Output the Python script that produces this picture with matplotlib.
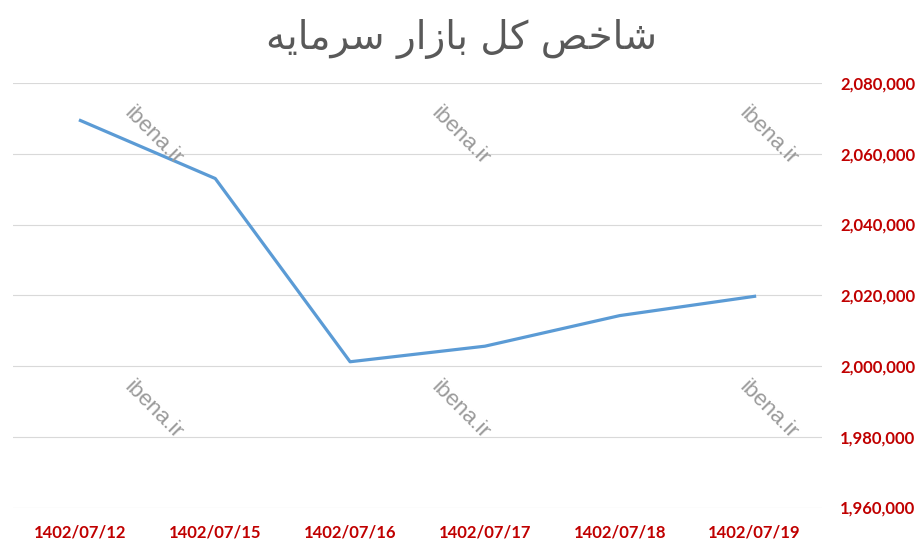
import matplotlib
matplotlib.use("Agg")
import matplotlib.pyplot as plt
from matplotlib.ticker import FuncFormatter

dates = ["1402/07/12", "1402/07/15", "1402/07/16", "1402/07/17", "1402/07/18", "1402/07/19"]
index_values = [2069400, 2053000, 2001200, 2005600, 2014250, 2019700]
y_ticks = [1960000, 1980000, 2000000, 2020000, 2040000, 2060000, 2080000]

# "شاخص کل بازار سرمایه" in Arabic presentation forms, visual (left-to-right) order
title_words = [
    "\uFEB7\uFE8E\uFEA7\uFEBA",                  # شاخص
    "\uFB90\uFEDE",                              # کل
    "\uFE91\uFE8E\uFEAF\uFE8D\uFEAD",            # بازار
    "\uFEB3\uFEAE\uFEE3\uFE8E\uFBFE\uFEEA",      # سرمایه
]
title_text = " ".join(title_words)[::-1]

W, H = 924, 550
fig = plt.figure(figsize=(W / 100, H / 100), dpi=100)
ax = fig.add_axes([13 / W, 1 - 507.5 / H, (822 - 13) / W, (507.5 - 83) / H])

x = list(range(len(dates)))
ax.plot(x, index_values, color="#5B9BD5", linewidth=2.3, solid_joinstyle="round", zorder=3)

ax.set_xlim(-0.5, len(dates) - 0.5)
ax.set_ylim(y_ticks[0], y_ticks[-1])
ax.set_yticks(y_ticks)
ax.set_xticks(x)
ax.set_xticklabels(dates)
ax.yaxis.tick_right()
ax.yaxis.set_major_formatter(FuncFormatter(lambda v, p: f"{int(v):,}"))
ax.grid(axis="y", color="#D9D9D9", linewidth=0.8)
ax.set_axisbelow(True)
for s in ax.spines.values():
    s.set_visible(False)
ax.tick_params(axis="both", length=0, colors="#C00000")
ax.tick_params(axis="x", pad=12)
ax.tick_params(axis="y", pad=13)
for lab in ax.get_xticklabels() + ax.get_yticklabels():
    lab.set_fontfamily("Lato")
    lab.set_fontweight("bold")
    lab.set_fontsize(12)

fig.text(0.5, 1 - 39 / H, title_text, ha="center", va="center",
         fontsize=28, color="#595959", family=["DejaVu Sans"])

# watermarks
for wx in [153, 460, 768]:
    for wy in [136, 410]:
        fig.text(wx / W, 1 - wy / H, "ibena.ir", ha="center", va="center",
                 rotation=-45, fontsize=16, color="#9A9A9A",
                 family="Liberation Sans", zorder=5)

fig.savefig("out.png", dpi=100)
